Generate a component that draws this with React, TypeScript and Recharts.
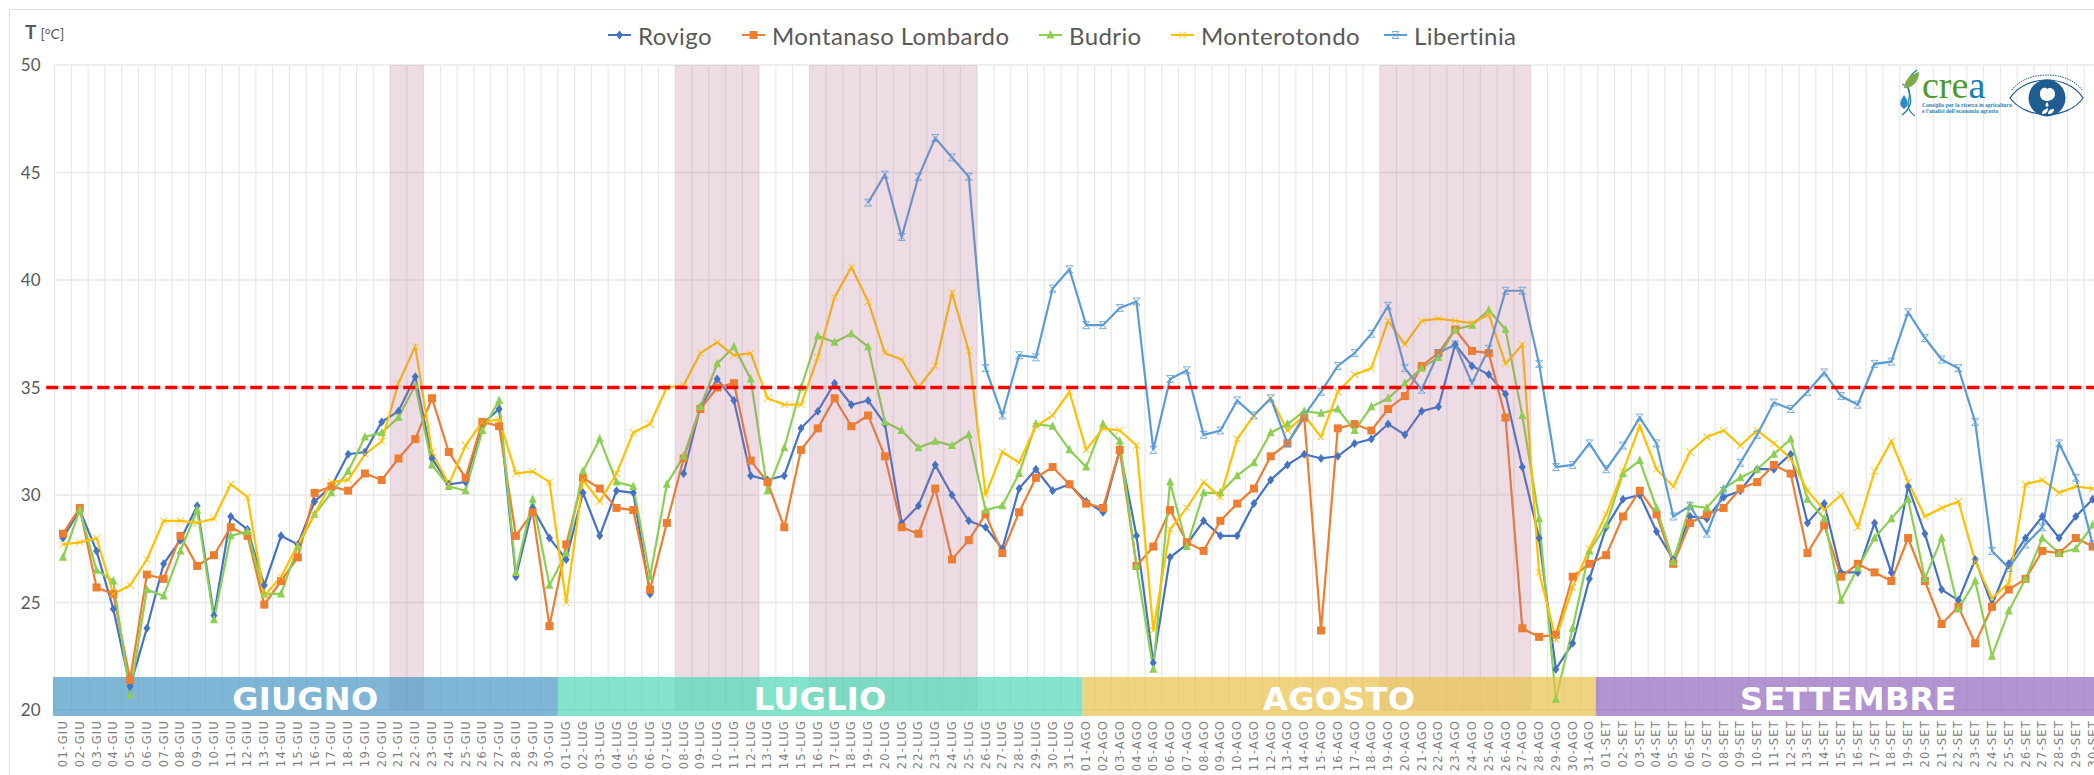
import React from 'react'
import { LineChart, Line, XAxis, YAxis, CartesianGrid, ReferenceArea, ReferenceLine } from 'recharts'

const monthNames = ['GIU', 'LUG', 'AGO', 'SET']
const monthDays = [30, 31, 31, 30]
const monthLabels = ['GIUGNO', 'LUGLIO', 'AGOSTO', 'SETTEMBRE']
const monthFills = ['rgb(72,151,196)', 'rgb(79,216,181)', 'rgb(232,192,72)', 'rgb(145,102,188)']
// the coloured month strips do not sit exactly on the day cells in the original
const monthEdges = [-0.6, 29.5, 60.78, 91.38, 121.5]

const categories: string[] = []
monthNames.forEach((m, k) => {
  for (let d = 1; d <= monthDays[k]; d++) categories.push(String(d).padStart(2, '0') + '-' + m)
})

// first and last day of each heat wave
const heatWaves = [['21-GIU', '22-GIU'], ['08-LUG', '12-LUG'], ['16-LUG', '25-LUG'], ['19-AGO', '27-AGO']]
const yTicks = [20, 25, 30, 35, 40, 45, 50]
const threshold = 35

const rovigo = [
  28.0, 29.3, 27.4, 24.7, 21.1, 23.8, 26.8, 27.9, 29.5, 24.4, 29.0, 28.4, 25.8, 28.1, 27.7, 29.7, 30.4, 31.9, 32.0, 33.4, 33.9, 35.5, 31.7, 30.5, 30.6, 33.3, 34.0, 26.2, 29.4, 28.0,
  27.0, 30.1, 28.1, 30.2, 30.1, 25.4, null, 31.0, 34.1, 35.4, 34.4, 30.9, 30.7, 30.9, 33.1, 33.9, 35.2, 34.2, 34.4, 33.3, 28.7, 29.5, 31.4, 30.0, 28.8, 28.5, 27.5, 30.3, 31.2, 30.2, 30.5,
  29.7, 29.2, 32.1, 28.1, 22.2, 27.1, 27.7, 28.8, 28.1, 28.1, 29.6, 30.7, 31.4, 31.9, 31.7, 31.8, 32.4, 32.6, 33.3, 32.8, 33.9, 34.1, 37.0, 36.0, 35.6, 34.7, 31.3, 28.0, 21.9, 23.1, 26.1,
  28.5, 29.8, 30.0, 28.3, 27.0, 29.0, 28.9, 29.9, 30.2, 31.2, 31.2, 31.9, 28.7, 29.6, 26.4, 26.4, 28.7, 26.4, 30.4, 28.2, 25.6, 25.1, 27.0, 24.9, 26.8, 28.0, 29.0, 28.0, 29.0, 29.8,
]
const montanaso = [
  28.2, 29.4, 25.7, 25.4, 21.4, 26.3, 26.1, 28.1, 26.7, 27.2, 28.5, 28.1, 24.9, 26.0, 27.1, 30.1, 30.4, 30.2, 31.0, 30.7, 31.7, 32.6, 34.5, 32.0, 30.8, 33.4, 33.2, 28.1, 29.2, 23.9,
  27.7, 30.8, 30.3, 29.4, 29.3, 25.6, 28.7, 31.7, 34.0, 35.0, 35.2, 31.6, 30.6, 28.5, 32.1, 33.1, 34.5, 33.2, 33.7, 31.8, 28.5, 28.2, 30.3, 27.0, 27.9, 29.1, 27.3, 29.2, 30.8, 31.3, 30.5,
  29.6, 29.4, 32.1, 26.7, 27.6, 29.3, 27.8, 27.4, 28.8, 29.6, 30.3, 31.8, 32.4, 33.6, 23.7, 33.1, 33.3, 33.0, 34.0, 34.6, 36.0, 36.6, 37.7, 36.7, 36.6, 33.6, 23.8, 23.4, 23.5, 26.2, 26.8,
  27.2, 29.0, 30.2, 29.1, 26.8, 28.7, 29.1, 29.4, 30.3, 30.6, 31.4, 31.0, 27.3, 28.6, 26.2, 26.8, 26.4, 26.0, 28.0, 26.0, 24.0, 24.8, 23.1, 24.8, 25.6, 26.1, 27.4, 27.3, 28.0, 27.6,
]
const budrio = [
  27.1, 29.3, 26.5, 26.0, 20.7, 25.6, 25.3, 27.4, 29.3, 24.2, 28.1, 28.3, 25.4, 25.4, 27.6, 29.1, 30.1, 31.1, 32.7, 32.9, 33.6, 35.1, 31.4, 30.4, 30.2, 33.0, 34.4, 26.4, 29.8, 25.8,
  27.3, 31.1, 32.6, 30.6, 30.4, 26.2, 30.5, 31.8, 34.1, 36.1, 36.9, 35.4, 30.2, 32.2, 35.0, 37.4, 37.1, 37.5, 36.9, 33.4, 33.0, 32.2, 32.5, 32.3, 32.8, 29.3, 29.5, 31.0, 33.3, 33.2, 32.1,
  31.3, 33.3, 32.5, 26.7, 21.9, 30.6, 27.6, 30.1, 30.1, 30.9, 31.5, 32.9, 33.3, 33.9, 33.8, 34.0, 33.0, 34.1, 34.5, 35.2, 35.9, 36.4, 37.7, 37.9, 38.6, 37.7, 33.7, 28.9, 20.5, 23.8, 27.4,
  28.6, 31.0, 31.6, 29.4, 26.9, 29.5, 29.4, 30.3, 30.8, 31.2, 31.9, 32.6, 29.8, 28.9, 25.1, 26.6, 28.0, 28.9, 29.8, 26.1, 28.0, 24.7, 26.0, 22.5, 24.6, 26.1, 28.0, 27.3, 27.5, 28.6,
]
const monterotondo = [
  27.7, 27.8, 28.0, 25.4, 25.8, 27.0, 28.8, 28.8, 28.7, 28.9, 30.5, 29.9, 25.3, 26.2, 27.7, 29.1, 30.6, 30.7, 31.9, 32.5, 35.2, 36.9, 32.0, 30.5, 32.3, 33.4, 33.5, 31.0, 31.1, 30.6,
  25.0, 30.7, 29.7, 31.0, 32.9, 33.3, 35.0, 35.1, 36.6, 37.1, 36.5, 36.6, 34.5, 34.2, 34.2, 36.4, 39.2, 40.6, 39.0, 36.6, 36.3, 35.0, 36.0, 39.4, 36.7, 30.0, 32.0, 31.5, 33.2, 33.7, 34.8,
  32.1, 33.1, 33.0, 32.3, 23.7, 28.4, 29.4, 30.6, 29.9, 32.6, 33.7, 34.5, 33.0, 33.7, 32.7, 34.8, 35.6, 35.9, 38.1, 37.0, 38.1, 38.2, 38.1, 38.0, 38.4, 36.1, 37.0, 26.4, 23.3, 25.7, 27.5,
  29.1, 31.1, 33.2, 31.2, 30.4, 32.0, 32.7, 33.0, 32.3, 33.0, 32.4, 31.7, 30.2, 29.3, 30.0, 28.5, 31.1, 32.5, 30.6, 29.0, 29.4, 29.7, 26.9, 25.2, 25.9, 30.5, 30.7, 30.1, 30.4, 30.3,
]
const libertinia = [
  null, null, null, null, null, null, null, null, null, null, null, null, null, null, null, null, null, null, null, null, null, null, null, null, null, null, null, null, null, null,
  null, null, null, null, null, null, null, null, null, null, null, null, null, null, null, null, null, null, 43.6, 44.9, 42.0, 44.8, 46.6, 45.7, 44.8, 35.9, 33.7, 36.5, 36.4, 39.6, 40.5,
  37.9, 37.9, 38.7, 39.0, 32.1, 35.4, 35.8, 32.8, 33.0, 34.4, 33.7, 34.5, 32.4, 33.7, 34.8, 36.0, 36.6, 37.5, 38.8, 35.9, 34.9, 36.6, 37.0, 35.2, 36.8, 39.5, 39.5, 36.1, 31.3, 31.4, 32.4,
  31.2, 32.3, 33.6, 32.4, 29.0, 29.5, 28.2, 30.2, 31.5, 32.8, 34.3, 34.0, 34.8, 35.7, 34.6, 34.2, 36.1, 36.2, 38.5, 37.3, 36.3, 35.9, 33.4, 27.4, 26.6, 27.7, 28.5, 32.4, 30.8, 27.7,
]

const seriesNames = ['Rovigo', 'Montanaso Lombardo', 'Budrio', 'Monterotondo', 'Libertinia']
const seriesValues = [rovigo, montanaso, budrio, monterotondo, libertinia]
const seriesColors = ['#4472C4', '#ED7D31', '#8CCF52', '#FFC000', '#5B9BD5']
const seriesMarkers = ['diamond', 'square', 'triangle', 'cross', 'star']
const legendLeft = [608, 742, 1039, 1171, 1384]

const tableData = categories.map((day, idx) => {
  const row: any = { idx, day }
  seriesNames.forEach((n, s) => { row[n] = seriesValues[s][idx] })
  return row
})
const dayTicks = categories.map((_, i) => i)
const cellEdges = [...dayTicks, categories.length].map(i => i - 0.5)

const drawMarker = (kind: string, x: number, y: number, c: string) => {
  if (kind === 'diamond') return <path d={`M${x} ${y - 4.5}L${x + 3.5} ${y}L${x} ${y + 4.5}L${x - 3.5} ${y}Z`} fill={c} />
  if (kind === 'square') return <rect x={x - 4} y={y - 4} width={8} height={8} fill={c} />
  if (kind === 'triangle') return <path d={`M${x} ${y - 5}L${x + 4} ${y + 3.5}L${x - 4} ${y + 3.5}Z`} fill={c} />
  if (kind === 'cross') return <path d={`M${x - 3.5} ${y - 3.5}L${x + 3.5} ${y + 3.5}M${x + 3.5} ${y - 3.5}L${x - 3.5} ${y + 3.5}`} stroke={c} strokeWidth={1} fill="none" />
  return <path d={`M${x - 3.5} ${y - 3.5}L${x + 3.5} ${y + 3.5}M${x + 3.5} ${y - 3.5}L${x - 3.5} ${y + 3.5}M${x - 3.5} ${y - 3.5}H${x + 3.5}M${x - 3.5} ${y + 3.5}H${x + 3.5}`} stroke={c} strokeWidth={0.8} fill="none" />
}

const MarkerDot = (kind: string, c: string) => (p: any) => {
  if (p.value == null || p.cy == null) return <g key={p.key} />
  return <g key={p.key}>{drawMarker(kind, p.cx, p.cy, c)}</g>
}

const DayTick = (p: any) => (
  <text
    x={p.x + 4}
    y={720}
    transform={`rotate(-90 ${p.x + 4} 720)`}
    textAnchor="end"
    fontFamily="DejaVu Sans"
    fontSize={11.5}
    letterSpacing={1.2}
    fill="#7f7f7f"
  >
    {categories[p.payload.value]}
  </text>
)

const Logos = () => (
  <>
    <div style={{ position: 'absolute', left: 1922, top: 70, fontFamily: 'Liberation Serif', fontSize: 38, lineHeight: '30px', color: '#4E9A2C' }}>
      cre<span style={{ color: '#1B7DB5' }}>a</span>
    </div>
    <div style={{ position: 'absolute', left: 1922, top: 102, fontFamily: 'Liberation Serif', fontWeight: 700, fontSize: 5.6, lineHeight: '6px', color: '#2B7FB0', whiteSpace: 'nowrap' }}>
      Consiglio per la ricerca in agricoltura<br />e l'analisi dell'economia agraria
    </div>
    <svg style={{ position: 'absolute', left: 1890, top: 60, overflow: 'visible' }} width={204} height={60}>
      <path d="M27 10C4 26 34 38 12 55" stroke="#2B7FB0" strokeWidth={1.5} fill="none" />
      <path d="M12 24C30 32 8 44 25 56" stroke="#2B7FB0" strokeWidth={1.2} fill="none" />
      <path d="M14 28C15 18 22 14 29 12C29 20 24 28 14 28Z" fill="#7CAB45" />
      <path d="M14 35C19 42 19 46 14 49C9 46 9 42 14 35Z" fill="#2B8CC4" />
      <path d="M120 38C136 14 178 14 193 38C178 60 136 60 120 38Z" fill="none" stroke="#1F5C8F" strokeWidth={1.2} />
      <path d="M122 30C136 10 178 10 192 30" fill="none" stroke="#1F5C8F" strokeWidth={1} strokeDasharray="1.5 1" />
      <circle cx={157} cy={38} r={18.5} fill="#1F5C8F" />
      <path d="M150 34C150 27 156 27 157 29C159 27 165 28 165 34C165 39 160 41 157 41C154 41 150 39 150 34Z" fill="#fff" />
      <path d="M157 42C159 45 159 46 157 47C155 46 155 45 157 42Z" fill="#fff" />
      <path d="M152 54C152 50 156 49 158 48C158 52 156 54 152 54Z" fill="#fff" />
      <path d="M158 54C158 50 161 49 164 49C164 52 162 54 158 54Z" fill="#fff" />
    </svg>
  </>
)

const App = () => {
  return (
    <div style={{ position: 'absolute', left: 0, top: 0, width: 2094, height: 775, overflow: 'hidden', background: '#fff' }}>
      <div style={{ position: 'absolute', left: 9, top: 9, width: 2200, height: 900, border: '1px solid #e2e2e2' }} />
      <div style={{ position: 'absolute', left: 25, top: 20, color: '#595959', fontFamily: 'Lato', fontWeight: 700, fontSize: 19, whiteSpace: 'nowrap' }}>
        T <span style={{ fontSize: 14, fontWeight: 400 }}>[°C]</span>
      </div>

      {seriesNames.map((n, s) => (
        <div
          key={n}
          style={{ position: 'absolute', left: legendLeft[s], top: 19, height: 32, display: 'flex', alignItems: 'center', whiteSpace: 'nowrap', fontFamily: 'Lato', fontSize: 24, letterSpacing: 0.4, color: '#595959' }}
        >
          <svg width={23} height={12} style={{ marginRight: 7 }}>
            <line x1={0} x2={23} y1={6} y2={6} stroke={seriesColors[s]} strokeWidth={2} />
            {drawMarker(seriesMarkers[s], 11.5, 6, seriesColors[s])}
          </svg>
          {n}
        </div>
      ))}

      <LineChart width={2101} height={775} data={tableData} margin={{ top: 65, right: 0, bottom: 0, left: 0 }}>
        <CartesianGrid vertical={false} stroke="#e8e8e8" strokeWidth={1.5} />
        {cellEdges.map(e => (
          <ReferenceLine key={e} x={e} stroke="#e8e8e8" strokeWidth={1.2} ifOverflow="visible" zIndex={-50} />
        ))}
        <XAxis
          dataKey="idx"
          type="number"
          domain={[-0.5, categories.length - 0.5]}
          ticks={dayTicks}
          interval={0}
          height={65}
          axisLine={false}
          tickLine={false}
          tick={<DayTick />}
        />
        <YAxis
          domain={[20, 50]}
          ticks={yTicks}
          width={54.6}
          axisLine={false}
          tickLine={false}
          tick={{ fill: '#595959', fontFamily: 'Lato', fontSize: 17 }}
          tickMargin={8}
        />
        {seriesNames.map((n, s) => (
          <Line
            key={n}
            dataKey={n}
            stroke={seriesColors[s]}
            strokeWidth={2.2}
            type="linear"
            dot={MarkerDot(seriesMarkers[s], seriesColors[s])}
            activeDot={false}
            isAnimationActive={false}
          />
        ))}
        {heatWaves.map(([a, b]) => (
          <ReferenceArea
            key={a}
            x1={categories.indexOf(a) - 0.5}
            x2={categories.indexOf(b) + 0.5}
            y1={20}
            y2={50}
            fill="rgb(187,115,151)"
            fillOpacity={0.25}
            stroke="none"
            zIndex={500}
          />
        ))}
        {monthLabels.map((label, k) => (
          <ReferenceArea
            key={label}
            x1={monthEdges[k]}
            x2={monthEdges[k + 1]}
            y1={19.72}
            y2={21.53}
            fill={monthFills[k]}
            fillOpacity={0.7}
            stroke="none"
            ifOverflow="visible"
            zIndex={550}
            label={{ value: label, position: 'center', fill: '#fff', fontFamily: 'DejaVu Sans', fontWeight: 700, fontSize: 32, letterSpacing: 0.3, dy: 2 }}
          />
        ))}
        <ReferenceLine
          segment={[{ x: -1, y: threshold }, { x: categories.length - 0.5, y: threshold }]}
          stroke="#FF0000"
          strokeWidth={3.5}
          strokeDasharray="12 5"
          ifOverflow="visible"
          zIndex={600}
        />
      </LineChart>
      <Logos />
    </div>
  )
}

export default App
